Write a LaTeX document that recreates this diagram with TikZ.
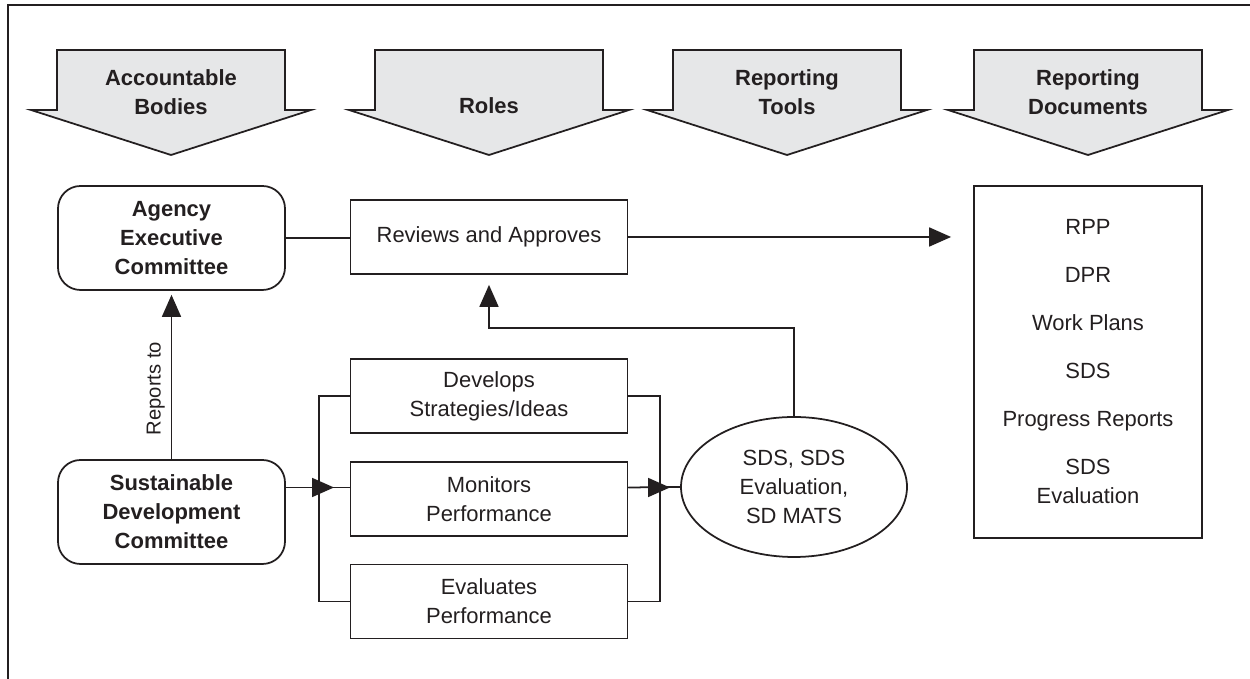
\documentclass[tikz,border=0pt]{standalone}
\usepackage{fontspec}
\setmainfont{Liberation Sans}
\usepackage{xcolor}
\usetikzlibrary{arrows.meta,shapes.geometric}

\definecolor{ink}{HTML}{231F20}
\definecolor{bannergray}{HTML}{E6E7E8}

\tikzset{
  banner/.style={fill=bannergray, draw=ink, line width=1pt},
  headtext/.style={align=center, text=ink, font=\fontsize{12.5}{16.5}\selectfont\bfseries},
  bodybox/.style={draw=ink, line width=1pt, rounded corners=0.45cm, minimum width=4.54cm, minimum height=2.08cm, align=center, text=ink, font=\fontsize{12.5}{16.5}\selectfont\bfseries},
  rolebox/.style={draw=ink, line width=1pt, minimum width=5.54cm, minimum height=1.48cm, align=center, text=ink, font=\fontsize{12.5}{16.5}\selectfont},
  link/.style={draw=ink, line width=1pt},
  linkarrow/.style={link, -{Triangle[length=0.44cm, width=0.38cm]}},
}

\begin{document}
\begin{tikzpicture}
        \useasboundingbox (0,0) rectangle (25,13.58);
        \draw[ink, line width=1.4pt] (0.16,0) -- (0.16,13.48) -- (25,13.48);

        % column banners
        \draw[banner] (1.14,12.58) -- (5.70,12.58) -- (5.70,11.38) -- (6.22,11.38) -- (3.42,10.48) -- (0.62,11.38) -- (1.14,11.38) -- cycle;
        \draw[banner] (7.50,12.58) -- (12.06,12.58) -- (12.06,11.38) -- (12.58,11.38) -- (9.78,10.48) -- (6.98,11.38) -- (7.50,11.38) -- cycle;
        \draw[banner] (13.46,12.58) -- (18.02,12.58) -- (18.02,11.38) -- (18.54,11.38) -- (15.74,10.48) -- (12.94,11.38) -- (13.46,11.38) -- cycle;
        \draw[banner] (19.48,12.58) -- (24.04,12.58) -- (24.04,11.38) -- (24.56,11.38) -- (21.76,10.48) -- (18.96,11.38) -- (19.48,11.38) -- cycle;
        \node[headtext] (hbodies) at (3.42,11.73) {Accountable\\Bodies};
        \node[headtext] (hroles) at (9.78,11.46) {Roles};
        \node[headtext] (htools) at (15.74,11.73) {Reporting\\Tools};
        \node[headtext] (hdocs) at (21.76,11.73) {Reporting\\Documents};

        % bodies
        \node[bodybox] (aec) at (3.43,8.82) {Agency\\Executive\\Committee};
        \node[bodybox] (sdc) at (3.43,3.34) {Sustainable\\Development\\Committee};

        % roles
        \node[rolebox] (reviews) at (9.78,8.84) {Reviews and Approves};
        \node[rolebox] (develops) at (9.78,5.66) {Develops\\Strategies/Ideas};
        \node[rolebox] (monitors) at (9.78,3.60) {Monitors\\Performance};
        \node[rolebox] (evaluates) at (9.78,1.55) {Evaluates\\Performance};

        % tools and documents
        \node[ellipse, draw=ink, line width=1pt, minimum width=4.52cm, minimum height=2.8cm, inner sep=0pt, align=center, text=ink, font=\fontsize{12.5}{16.5}\selectfont] (tools) at (15.88,3.84) {SDS, SDS\\Evaluation,\\SD MATS};
        \node[draw=ink, line width=1pt, minimum width=4.56cm, minimum height=7.04cm, align=center, text=ink, font=\fontsize{12.5}{16.5}\selectfont] (docs) at (21.76,6.34) {RPP\\[0.38cm]DPR\\[0.38cm]Work Plans\\[0.38cm]SDS\\[0.38cm]Progress Reports\\[0.38cm]SDS\\Evaluation};

        \coordinate (splitL) at (6.38,3.83);
        \coordinate (tipL) at (6.68,3.83);
        \coordinate (joinR) at (13.20,3.83);
        \coordinate (tipR) at (13.40,3.83);
        \coordinate (fb) at (9.78,7.02);

        % connectors
        \draw[link] (aec.east) -- (aec.east -| reviews.west);
        \draw[linkarrow, shorten >=0.44cm] (reviews.east) -- (reviews.east -| docs.west);
        \draw[linkarrow, shorten >=0.08cm] (sdc.north) -- (aec.south)
          node[pos=0.42, above, sloped, text=ink, font=\fontsize{11.5}{14}\selectfont] (rlabel) {Reports to};
        \draw[linkarrow, shorten >=0.2cm] (tools.north) |- (fb) -- (reviews.south);

        \draw[link] (develops.west) -| (splitL);
        \draw[link] (evaluates.west) -| (splitL);
        \draw[link] (sdc.east |- splitL) -- (monitors.west |- splitL);
        \draw[linkarrow] (sdc.east |- splitL) -- (tipL);

        \draw[link] (develops.east) -| (joinR);
        \draw[link] (evaluates.east) -| (joinR);
        \draw[link] (monitors.east |- joinR) -- (tools.west);
        \draw[linkarrow] (monitors.east |- joinR) -- (tipR);
      \end{tikzpicture}
\end{document}
